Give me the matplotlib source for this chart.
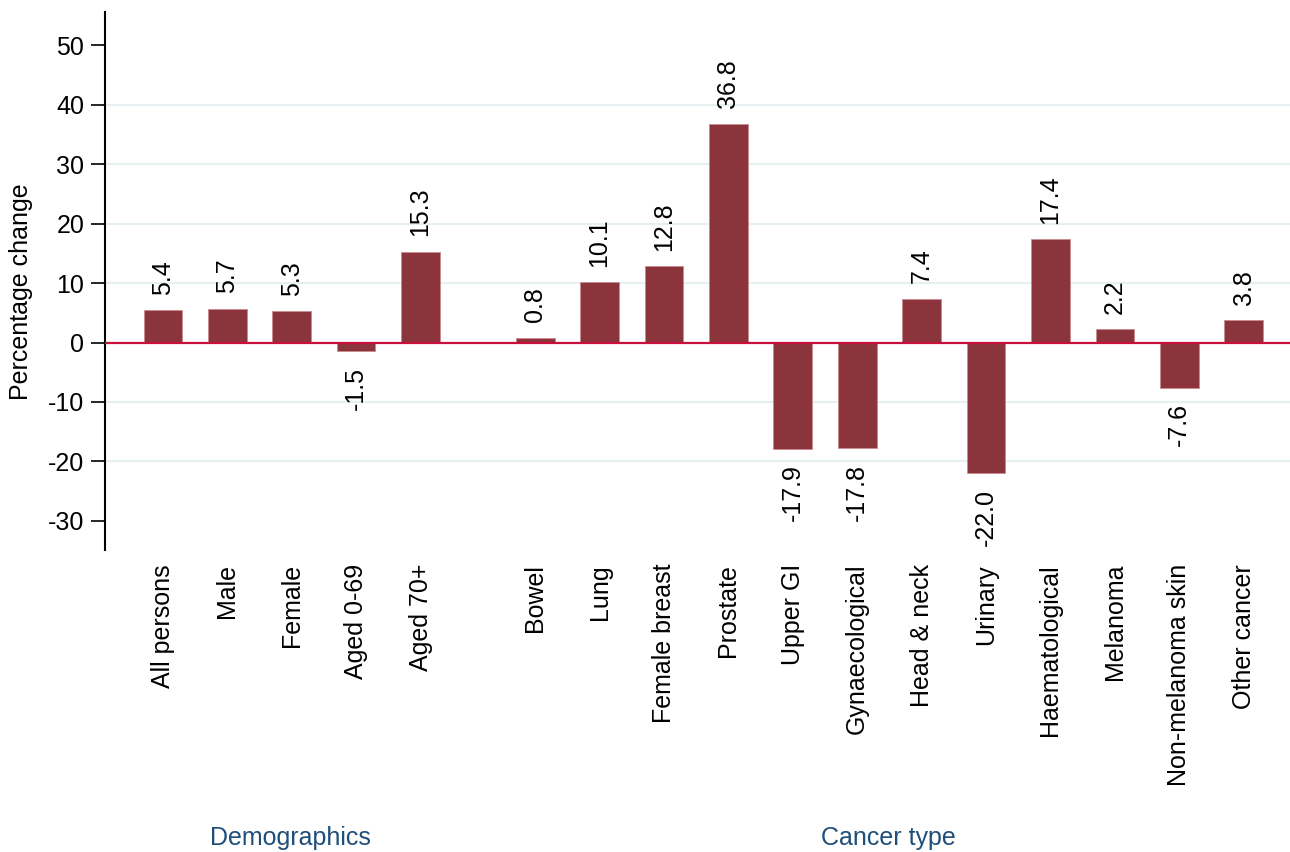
"""Percentage change by demographic group and cancer type."""
import matplotlib
matplotlib.use("Agg")
import matplotlib.pyplot as plt  # noqa: E402
import numpy as np  # noqa: E402

DEMOGRAPHICS = ["All persons", "Male", "Female", "Aged 0-69", "Aged 70+"]
DEMO_VALUES = [5.4, 5.7, 5.3, -1.5, 15.3]

CANCERS = ["Bowel", "Lung", "Female breast", "Prostate", "Upper GI",
           "Gynaecological", "Head & neck", "Urinary", "Haematological",
           "Melanoma", "Non-melanoma skin", "Other cancer"]
CANCER_VALUES = [0.8, 10.1, 12.8, 36.8, -17.9, -17.8, 7.4, -22.0, 17.4,
                 2.2, -7.6, 3.8]

BAR = "#8b343c"
GRID = "#e6eff1"
ZERO = "#c8103c"
GROUP = "#1f4e79"

plt.rcParams["font.family"] = ["Liberation Sans", "DejaVu Sans"]
plt.rcParams["font.size"] = 18
plt.rcParams["axes.unicode_minus"] = False

demo_x = np.arange(len(DEMOGRAPHICS))
cancer_x = np.arange(len(CANCERS)) + 5.78
xs = np.concatenate([demo_x, cancer_x])
vals = DEMO_VALUES + CANCER_VALUES
labels = DEMOGRAPHICS + CANCERS

fig = plt.figure(figsize=(12.9, 8.52), dpi=100)
ax = fig.add_axes([105 / 1290, 1 - 550 / 852, 1 - 105 / 1290, (550 - 12) / 852])

for y in [-20, -10, 10, 20, 30, 40]:
    ax.axhline(y, color=GRID, lw=1.5, zorder=0)
ax.bar(xs, vals, width=0.6, color=BAR, edgecolor="#c98a90", linewidth=0.6,
       zorder=2)
ax.axhline(0, color=ZERO, lw=1.6, zorder=3)

for x, v in zip(xs, vals):
    ax.annotate(f"{v:.1f}", (x, v), xytext=(0, 11 if v >= 0 else -11),
                textcoords="offset points", rotation=90, ha="center",
                va="bottom" if v >= 0 else "top")

ax.set_xlim(-0.9, 17.5)
ax.set_ylim(-34.9, 55.6)
ax.set_yticks(range(-30, 51, 10))
ax.set_xticks(xs)
ax.set_xticklabels(labels, rotation=90, va="top")
ax.tick_params(axis="x", length=0, pad=10)
ax.tick_params(axis="y", length=10, width=1.2, pad=5)
for s in ["top", "right", "bottom"]:
    ax.spines[s].set_visible(False)
ax.spines["left"].set_linewidth(1.5)
ax.set_ylabel("Percentage change")
ax.yaxis.set_label_coords(-0.061, 0.48)

fig.text(290 / 1290, 1 - 838 / 852, "Demographics", ha="center",
         va="center", color=GROUP)
fig.text(888 / 1290, 1 - 838 / 852, "Cancer type", ha="center",
         va="center", color=GROUP)

fig.savefig("out.png", dpi=100)
